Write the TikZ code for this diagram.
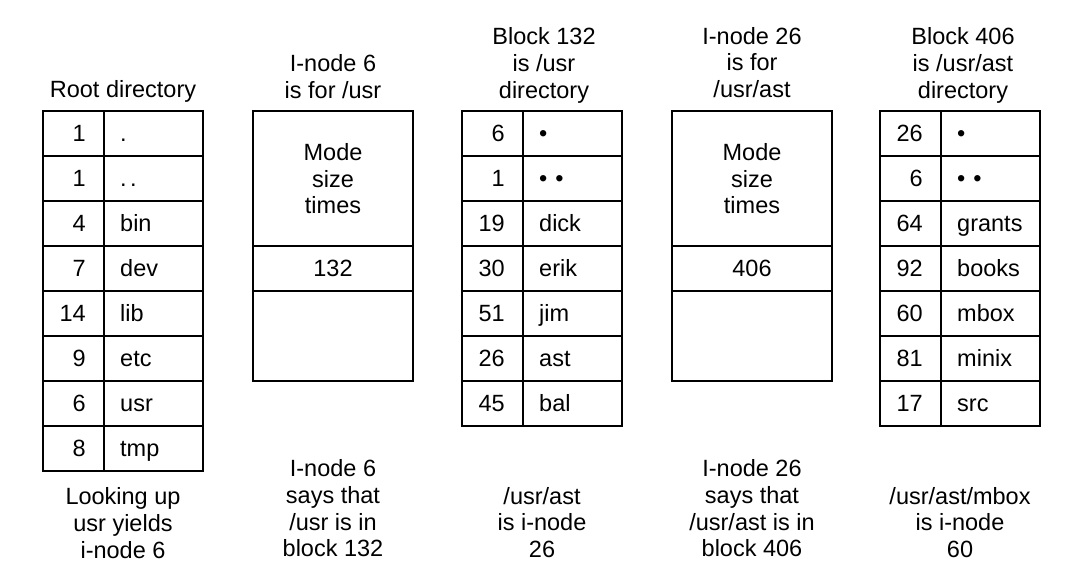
\documentclass[tikz,border=0pt]{standalone}
\usepackage{fontspec}
\setmainfont{Liberation Sans}
\tikzset{
  txt/.style={font=\fontsize{23.5}{26.7}\selectfont, inner sep=0pt},
  lbl/.style={txt, align=center, anchor=north},
  num/.style={txt, anchor=base east},
  nam/.style={txt, anchor=base west},
  frame/.style={line width=2pt},
}
\begin{document}
\begin{tikzpicture}[x=1pt,y=-1pt]
\useasboundingbox (0,0) rectangle (1076,580);

% ---------- Root directory ----------
\draw[frame] (43,110.7) rectangle (203,470.7);
\draw[frame] (104,110.7) -- (104,470.7);
\foreach \k in {1,...,7} \draw[frame] (43,{110.7+45*\k}) -- (203,{110.7+45*\k});
\foreach \n/\s [count=\i from 0] in {1/{.},1/{.\kern3.5pt.},4/bin,7/dev,14/lib,9/etc,6/usr,8/tmp}
  {\node[num] (root-n\i) at (86,{141.6+45*\i}) {\n};
   \node[nam] (root-s\i) at (120,{141.6+45*\i}) {\s};}
\node[lbl] (root-title) at (123,80.5) {Root directory};
\node[lbl] (root-note) at (123,487.5) {Looking up\\usr yields\\i-node 6};

% ---------- I-node 6 ----------
\draw[frame] (253,110.7) rectangle (413,380.7);
\draw[frame] (253,245.7) -- (413,245.7);
\draw[frame] (253,290.7) -- (413,290.7);
\node[lbl] (in6-attr) at (333,143.2) {Mode\\size\\times};
\node[txt] (in6-blk) at (333,268.2) {132};
\node[lbl] (in6-title) at (333,54.5) {I-node 6\\is for /usr};
\node[lbl] (in6-note) at (333,459.5) {I-node 6\\says that\\/usr is in\\block 132};

% ---------- Block 132 ----------
\draw[frame] (462,110.7) rectangle (622,425.7);
\draw[frame] (523,110.7) -- (523,425.7);
\foreach \k in {1,...,6} \draw[frame] (462,{110.7+45*\k}) -- (622,{110.7+45*\k});
\foreach \n/\s [count=\i from 0] in {6/{•},1/{•\kern8pt•},19/dick,30/erik,51/jim,26/ast,45/bal}
  {\node[num] (b132-n\i) at (505,{141.6+45*\i}) {\n};
   \node[nam] (b132-s\i) at (539,{141.6+45*\i}) {\s};}
\node[lbl] (b132-title) at (544,27.5) {Block 132\\is /usr\\directory};
\node[lbl] (b132-note) at (542,487) {/usr/ast\\is i-node\\26};

% ---------- I-node 26 ----------
\draw[frame] (672,110.7) rectangle (832,380.7);
\draw[frame] (672,245.7) -- (832,245.7);
\draw[frame] (672,290.7) -- (832,290.7);
\node[lbl] (in26-attr) at (752,143.2) {Mode\\size\\times};
\node[txt] (in26-blk) at (752,268.2) {406};
\node[lbl] (in26-title) at (752,27) {I-node 26\\is for\\/usr/ast};
\node[lbl] (in26-note) at (752,459.5) {I-node 26\\says that\\/usr/ast is in\\block 406};

% ---------- Block 406 ----------
\draw[frame] (880,110.7) rectangle (1040,425.7);
\draw[frame] (941,110.7) -- (941,425.7);
\foreach \k in {1,...,6} \draw[frame] (880,{110.7+45*\k}) -- (1040,{110.7+45*\k});
\foreach \n/\s [count=\i from 0] in {26/{•},6/{•\kern8pt•},64/grants,92/books,60/mbox,81/minix,17/src}
  {\node[num] (b406-n\i) at (923,{141.6+45*\i}) {\n};
   \node[nam] (b406-s\i) at (957,{141.6+45*\i}) {\s};}
\node[lbl] (b406-title) at (963,27.5) {Block 406\\is /usr/ast\\directory};
\node[lbl] (b406-note) at (960,487) {/usr/ast/mbox\\is i-node\\60};
\end{tikzpicture}
\end{document}
